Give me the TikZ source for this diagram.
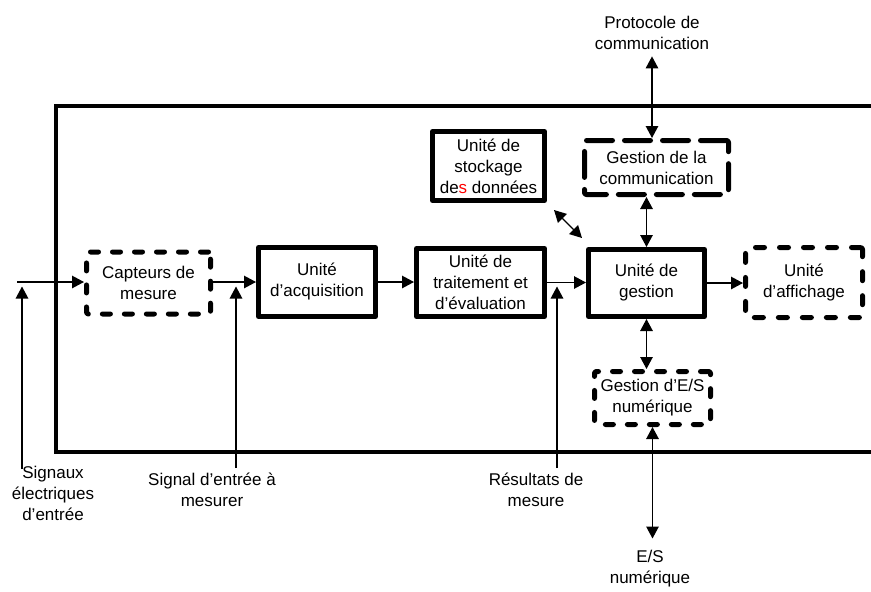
\documentclass[tikz,border=0pt]{standalone}
\usepackage{fontspec}
\setmainfont{Liberation Sans}
\usetikzlibrary{arrows.meta}
\newcommand\diagfont{\fontsize{17}{21}\selectfont}
\begin{document}
\begin{tikzpicture}[x=1pt,y=-1pt,
  box/.style={draw,line width=5pt,inner sep=0pt,align=center,font=\diagfont,line join=round},
  dbox/.style={box,line cap=round,rounded corners=2pt},
  conn/.style={line width=1.3pt,-{Triangle[length=12pt,width=12.5pt]}},
  dconn/.style={line width=1.3pt,{Triangle[length=12pt,width=12.5pt]}-{Triangle[length=12pt,width=12.5pt]}},
  lbl/.style={inner sep=0pt,align=center,font=\diagfont,anchor=north}]
\useasboundingbox (0,0) rectangle (871,592);
\clip (0,0) rectangle (871,592);

% outer frame
\draw[line width=4.5pt] (880,106) -- (56,106) -- (56,452) -- (880,452);

% boxes
\node[dbox,dash pattern=on 8pt off 14pt,minimum width=124pt,minimum height=62pt] (capt) at (148.5,283) {Capteurs de\\mesure};
\node[box,minimum width=117pt,minimum height=69pt] (acq) at (317,282) {Unité\\d’acquisition};
\node[box,minimum width=128pt,minimum height=68pt] (trait) at (480.5,282.5) {Unité de\\traitement et\\d’évaluation};
\node[box,minimum width=116pt,minimum height=67pt] (gest) at (646.5,283) {Unité de\\gestion};
\node[dbox,dash pattern=on 9pt off 15pt,minimum width=117pt,minimum height=70pt] (aff) at (804,282.5) {Unité\\d’affichage};
\node[box,minimum width=112pt,minimum height=69pt] (stock) at (488.5,166) {Unité de\\stockage\\de\textcolor{red}{s} données};
\node[dbox,dash pattern=on 26pt off 12pt,minimum width=144pt,minimum height=54pt] (comm) at (656.5,167.5) {Gestion de la\\communication};
\node[dbox,dash pattern=on 8pt off 14pt,minimum width=116pt,minimum height=53pt] (es) at (652.5,398) {Gestion d’E/S\\numérique};

% labels
\node[lbl] (sig) at (53,466) {Signaux\\électriques\\d’entrée};
\node[lbl] (sigm) at (212,472.5) {Signal d’entrée à\\mesurer};
\node[lbl] (res) at (536,472.5) {Résultats de\\mesure};
\node[lbl] (esl) at (650,549.5) {E/S\\numérique};
\node[lbl] (proto) at (652,15.5) {Protocole de\\communication};

% coordinates
\coordinate (in) at (17,282);
\coordinate (s1tip) at ([shift={(0,4.5)}]in);
\coordinate (s1) at (22,469);
\coordinate (m1) at (236,468);
\coordinate (r1) at (557,468);
\coordinate (estip) at ([shift={(0,-11)}]esl.north);

% connectors along main line
\draw[conn] (in) -- (in -| capt.west);
\draw[conn] (capt.east |- in) -- (in -| acq.west);
\draw[conn] (acq.east) -- (acq.east -| trait.west);
\draw[conn] (trait.east) -- (trait.east -| gest.west);
\draw[conn] (gest.east) -- (gest.east -| aff.west);

% vertical inputs
\draw[conn] (s1) -- (s1 |- s1tip);
\draw[conn] (m1) -- (m1 |- s1tip);
\draw[conn] (r1) -- (r1 |- s1tip);

% double arrows
\draw[dconn] ([shift={(7,7)}]stock.south east) -- ([shift={(-4,-9)}]gest.north west);
\draw[dconn] (comm.south -| gest.north) -- (gest.north);
\draw[dconn] ([shift={(0,7)}]proto.south) -- (comm.north -| proto.south);
\draw[dconn] (gest.south) -- (gest.south |- es.north);
\draw[dconn] (es.south) -- (es.south |- estip);
\end{tikzpicture}
\end{document}
